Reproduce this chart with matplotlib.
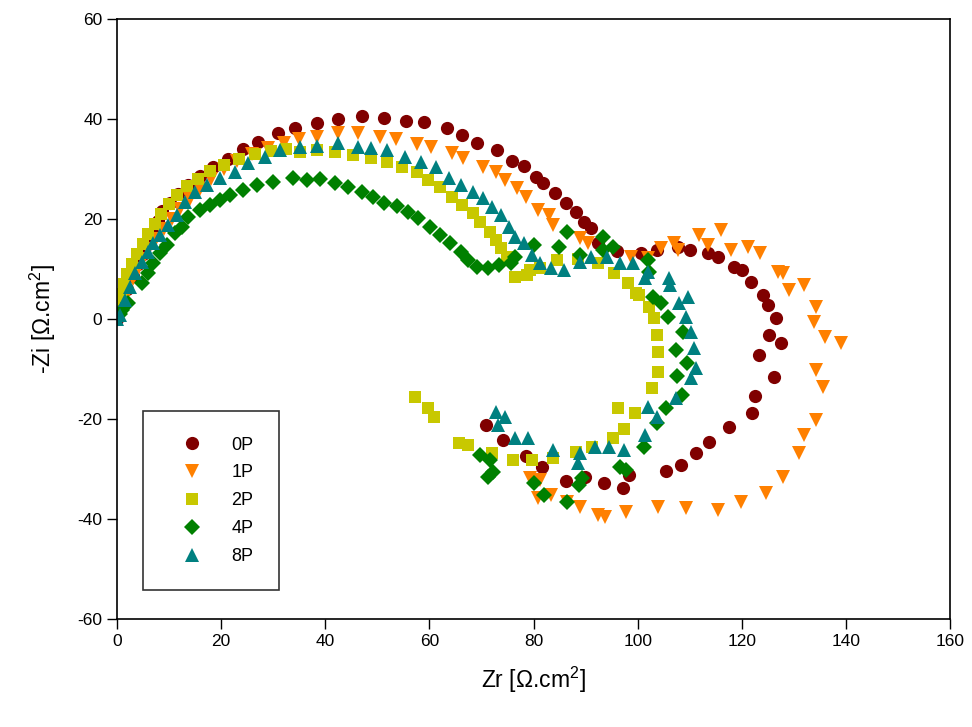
import numpy as np
import matplotlib
matplotlib.use("Agg")
import matplotlib.pyplot as plt

plt.rcParams['font.family'] = ['Liberation Sans', 'DejaVu Sans']
plt.rcParams['axes.unicode_minus'] = False
plt.rcParams['mathtext.fontset'] = 'custom'
plt.rcParams['mathtext.rm'] = 'Liberation Sans'
plt.rcParams['mathtext.it'] = 'Liberation Sans:italic'

# 0P
zr_0p = [0, 0.5, 1, 2, 3, 4, 5, 6, 7, 7.8, 8.7, 10.2, 11.7, 13.7, 16, 18.5, 21.3, 24.2, 27.1,
         31, 34.2, 38.5, 42.5, 47.1, 51.2, 55.6, 59, 63.3, 66.3, 69.2, 72.9, 75.8, 78.1, 80.4,
         81.9, 84.2, 86.2, 88.1, 89.6, 91, 92.3, 96, 100.6, 103.8, 107.7, 110, 113.5, 115.4,
         118.5, 120, 121.7, 124, 125, 126.5, 125.2, 127.5, 123.3, 126.2, 122.5, 121.9, 117.5,
         113.7, 111.2, 108.3, 105.4, 98.3, 97.1, 93.5, 89.8, 86.2, 81.7, 78.5, 74.2, 70.8]
zi_0p = [0, 2, 4, 6, 8.5, 11, 13, 15, 17, 19.5, 21.6, 23.2, 25, 26.8, 28.6, 30.4, 32, 34, 35.4,
         37.2, 38.2, 39.2, 40, 40.6, 40.2, 39.6, 39.4, 38.2, 36.8, 35.2, 33.8, 31.6, 30.6, 28.4,
         27.2, 25.2, 23.2, 21.4, 19.4, 18.2, 15.2, 13.5, 13.2, 13.8, 14.4, 13.8, 13.2, 12.4,
         10.4, 9.8, 7.4, 4.8, 2.8, 0.2, -3.2, -4.8, -7.2, -11.6, -15.4, -18.8, -21.6,
         -24.6, -26.8, -29.2, -30.4, -31.2, -33.8, -32.8, -31.6, -32.4, -29.6, -27.4, -24.2, -21.2]

# 1P
zr_1p = [0.5, 1, 2, 3, 4, 5, 6, 7.5, 9, 10.5, 12, 14, 16, 18, 20.5, 23, 26, 29, 32, 35,
         38.5, 42.5, 46.2, 50.6, 53.5, 57.7, 60.4, 64.4, 66.5, 70.2, 72.7, 74.6, 76.9, 78.5,
         80.8, 82.9, 83.8, 89, 90.4, 98.7, 101.9, 104.4, 106.9, 107.7, 111.7, 113.5, 116,
         117.9, 121.2, 123.5, 126.9, 127.9, 129, 131.9, 134.2, 133.8, 136, 139, 134.2, 135.6,
         134.2, 131.9, 131, 128, 124.6, 119.8, 115.4, 109.2, 104, 97.7, 93.8, 92.3, 89, 86.5,
         83.3, 80.8, 79.4, 81.3]
zi_1p = [1, 3, 5, 8, 10, 12, 14, 16, 18, 20, 22, 24, 26, 28, 30, 31.5, 33, 34.2, 35.2, 36,
         36.4, 37.2, 37.2, 36.4, 36, 35, 34.4, 33.2, 32.2, 30.4, 29.4, 27.8, 26.2, 24.4,
         21.8, 20.8, 18.8, 16.2, 15.2, 12.4, 12.2, 14.2, 15.2, 13.8, 16.8, 14.8, 17.8,
         13.8, 14.4, 13.2, 9.4, 9.2, 5.8, 6.8, 2.4, -0.6, -3.6, -4.8, -10.2, -13.6,
         -20.2, -23.2, -26.8, -31.6, -34.8, -36.6, -38.2, -37.8, -37.6, -38.6, -39.6, -39.2, -37.6, -36.6,
         -35.2, -35.8, -31.8, -32.2]

# 2P
zr_2p = [0, 0.3, 0.8, 1.3, 2, 2.8, 3.8, 5, 6, 7.2, 8.5, 10, 11.5, 13.5, 15.5, 17.8, 20.5,
         23.5, 26.5, 29.5, 32.5, 35.2, 38.5, 41.9, 45.4, 48.7, 51.9, 54.8, 57.7, 59.8, 62.1,
         64.4, 66.3, 68.3, 69.8, 71.7, 72.7, 73.7, 75, 76.5, 78.8, 79.4, 81.3, 84.6, 88.5,
         92.3, 95.4, 98.1, 99.6, 100.2, 102.1, 103.1, 103.8, 104, 104, 102.7, 96.3, 99.4,
         97.3, 95.2, 91.3, 88.1, 83.8, 79.8, 76, 72.1, 67.5, 65.6, 60.8, 59.8, 57.3]
zi_2p = [1, 3, 5, 7, 9, 11, 13, 15, 17, 19, 21, 23, 24.8, 26.5, 28, 29.5, 30.8,
         32, 33, 33.6, 34, 33.4, 33.8, 33.4, 32.8, 32.2, 31.4, 30.4, 29.4, 27.8, 26.4,
         24.4, 22.8, 21.2, 19.4, 17.4, 15.8, 14.2, 12.4, 8.4, 8.8, 9.8, 10.2, 11.8, 12,
         11.2, 9.2, 7.2, 5.2, 4.8, 2.4, 0.2, -3.2, -6.6, -10.6, -13.8, -17.8, -18.8,
         -22, -23.8, -25.6, -26.6, -27.8, -28.2, -28.2, -26.8, -25.2, -24.8, -19.6, -17.8, -15.6]

# 4P
zr_4p = [0, 0.5, 1, 2.1, 4.8, 6, 6.9, 8.3, 9.6, 11.2, 12.5, 13.7, 16, 17.9, 19.8, 21.7, 24.2,
         26.9, 30, 33.8, 36.5, 39, 41.9, 44.4, 47.1, 49.2, 51.2, 53.8, 55.8, 57.9, 60.2, 62.1,
         64, 66, 67.5, 69.2, 71.2, 73.3, 75.6, 76.5, 80, 84.8, 86.5, 89, 93.3, 95.2, 93.3,
         101.9, 102.1, 102.9, 104.4, 105.8, 108.7, 107.3, 109.4, 107.5, 108.5, 105.4, 103.8,
         101.2, 96.7, 97.7, 89.4, 88.7, 86.5, 82, 80, 69.8, 71.7, 71.2, 72.3]
zi_4p = [0.5, 1, 1.8, 3.2, 7.2, 9.2, 11.2, 13.2, 14.8, 17.2, 18.4, 20.4, 21.8, 22.8, 23.8, 24.8, 25.8,
         26.8, 27.4, 28.2, 27.8, 28, 27.2, 26.4, 25.4, 24.4, 23.2, 22.6, 21.4, 20.2, 18.4, 16.8,
         15.2, 13.4, 11.8, 10.4, 10.2, 10.8, 11.2, 12.4, 14.8, 14.4, 17.4, 12.8, 16.4, 14.4, 13.8,
         11.8, 9.4, 4.4, 3.2, 0.4, -2.6, -6.2, -8.8, -11.4, -15.2, -17.8, -20.8,
         -25.6, -29.6, -30.2, -31.8, -33.2, -36.6, -35.2, -32.8, -27.2, -28.2, -31.6, -30.6]

# 8P
zr_8p = [0, 0.6, 1.5, 2.5, 3.5, 4.8, 6, 6.9, 8.3, 9.8, 11.5, 13.1, 15, 17.3, 19.8, 22.7, 25.2,
         28.5, 31.3, 35.2, 38.5, 42.5, 46.2, 48.7, 51.9, 55.4, 58.3, 61.2, 63.7, 66, 68.3,
         70.2, 72.1, 73.7, 75.2, 76.5, 78.1, 79.8, 81.3, 83.3, 85.8, 89, 91, 94.2, 96.7,
         99.2, 101.9, 101.5, 106, 106.3, 109.6, 107.9, 109.2, 110.2, 110.8, 111.2, 110.2,
         107.3, 101.9, 103.8, 101.5, 97.3, 94.4, 91.9, 89, 88.5, 83.8, 79, 76.5, 74.6, 72.7, 73.1]
zi_8p = [0, 0.8, 3.8, 6.4, 9.2, 11.4, 13.4, 15.2, 16.8, 18.8, 20.8, 23.4, 25.4, 26.8, 28.2, 29.4, 31.2,
         32.4, 33.8, 34.4, 34.6, 35.2, 34.4, 34.2, 33.8, 32.4, 31.4, 30.4, 28.2, 26.8, 25.4,
         24.2, 22.4, 20.8, 18.4, 16.4, 15.2, 12.8, 11.2, 10.2, 9.8, 11.4, 12.4, 12.4, 11.2,
         11.2, 9.4, 8.2, 8.2, 6.8, 4.4, 3.2, 0.4, -2.6, -5.8, -9.8, -11.8,
         -15.8, -17.6, -19.6, -23.2, -26.2, -25.6, -25.6, -26.8, -28.8, -26.2, -23.8, -23.8, -19.6, -18.6, -21.2]

series = [
    (zr_0p, zi_0p, '0P', 'o', '#800000', 9.5),
    (zr_1p, zi_1p, '1P', 'v', '#ff8000', 9.5),
    (zr_2p, zi_2p, '2P', 's', '#c8c800', 8.5),
    (zr_4p, zi_4p, '4P', 'D', '#008000', 8.5),
    (zr_8p, zi_8p, '8P', '^', '#008080', 9.5),
]

fig = plt.figure(figsize=(9.72, 7.27), dpi=100)
ax = fig.add_axes([0.1204, 0.1486, 0.857, 0.8253])

for x, y, lab, m, c, ms in series:
    ax.plot(x, y, linestyle='none', marker=m, color=c, markersize=ms,
            markeredgewidth=0, label=lab)

ax.set_xlim(0, 160)
ax.set_ylim(-60, 60)
ax.set_xticks(np.arange(0, 161, 20))
ax.set_yticks(np.arange(-60, 61, 20))
ax.tick_params(direction='out', length=7, width=1, labelsize=12.5, top=False, right=False)
for s in ax.spines.values():
    s.set_linewidth(1.2)

ax.set_xlabel('Zr [\u03a9.cm$^2$]', fontsize=16.5, labelpad=12)
ax.set_ylabel('-Zi [\u03a9.cm$^2$]', fontsize=16.5, labelpad=14)

leg = ax.legend(loc='lower left', bbox_to_anchor=(0.031, 0.048), fancybox=False,
                edgecolor='black', fontsize=13, borderpad=1.4, labelspacing=0.6,
                handletextpad=0.9, borderaxespad=0, handlelength=2.6)
leg.get_frame().set_linewidth(1.2)

plt.savefig("out.png", dpi=100)
